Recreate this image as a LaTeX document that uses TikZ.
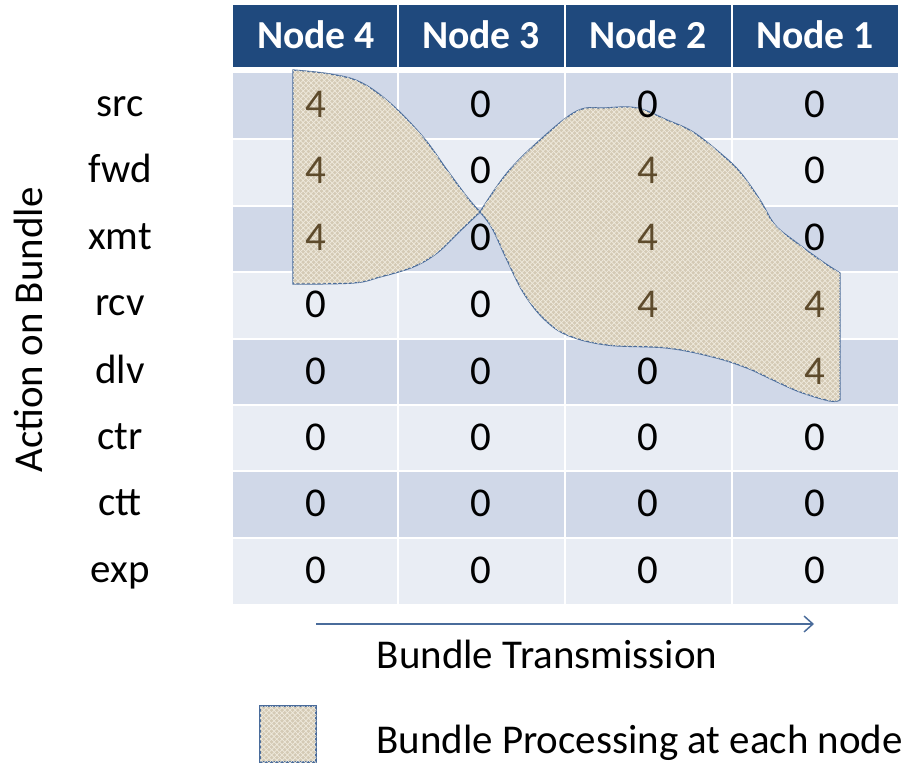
\documentclass[tikz,border=0pt]{standalone}
\usepackage{fontspec}
\setmainfont{Carlito}
\usetikzlibrary{arrows.meta,patterns}
\definecolor{hdblue}{HTML}{1F497D}
\definecolor{rowdark}{HTML}{D0D8E8}
\definecolor{rowlight}{HTML}{E9EDF4}
\definecolor{linen}{HTML}{D4CAB5}
\definecolor{weave}{HTML}{EFEADD}
\definecolor{edgeblue}{HTML}{4A6C9B}
\definecolor{numbrown}{HTML}{5E4B2C}
\tikzset{
	txt/.style={font=\fontsize{23.3}{28}\selectfont, inner sep=0pt, anchor=base},
	hd/.style={txt, font=\fontsize{22.6}{27}\selectfont\bfseries, text=white},
	four/.style={txt, text=numbrown},
	proc/.style={draw=edgeblue, line width=0.7pt, fill=linen, postaction={pattern=crosshatch, pattern color=weave}},
}
\begin{document}
\begin{tikzpicture}[x=0.02cm, y=-0.02cm]
		\useasboundingbox (0,0) rectangle (912,763);
		
		\fill[hdblue] (233,5) rectangle (898,67);
		\fill[rowdark] (233,73) rectangle (898,139);
		\fill[rowlight] (233,139) rectangle (898,206);
		\fill[rowdark] (233,206) rectangle (898,272);
		\fill[rowlight] (233,272) rectangle (898,339);
		\fill[rowdark] (233,339) rectangle (898,405);
		\fill[rowlight] (233,405) rectangle (898,471);
		\fill[rowdark] (233,471) rectangle (898,538);
		\fill[rowlight] (233,538) rectangle (898,604);
		
		\draw[white, line width=1.2pt] (233,139) -- (898,139);
		\draw[white, line width=1.2pt] (233,206) -- (898,206);
		\draw[white, line width=1.2pt] (233,272) -- (898,272);
		\draw[white, line width=1.2pt] (233,339) -- (898,339);
		\draw[white, line width=1.2pt] (233,405) -- (898,405);
		\draw[white, line width=1.2pt] (233,471) -- (898,471);
		\draw[white, line width=1.2pt] (233,538) -- (898,538);
		\draw[white, line width=1.2pt] (398,5) -- (398,604);
		\draw[white, line width=1.2pt] (565,5) -- (565,604);
		\draw[white, line width=1.2pt] (732,5) -- (732,604);
		
		\draw[proc] (293,284) -- (293,70)
			-- plot[smooth, tension=0.6] coordinates {(293,70) (330,74) (360,82) (390,103) (423,137) (447,170) (467,197) (480,212)}
			-- plot[smooth, tension=0.6] coordinates {(480,212) (460,231) (437,253) (413,267) (380,277) (353,283) (293,284)}
			-- cycle;
		\draw[proc] (480,212)
			-- plot[smooth, tension=0.6] coordinates {(480,212) (507,173) (540,140) (577,111) (605,108) (637,108) (667,120) (693,132) (720,153) (740,172) (760,200) (775,225) (797,243) (823,262) (840,273)}
			-- (840,400)
			-- plot[smooth, tension=0.6] coordinates {(840,400) (830,401) (800,392) (773,380) (747,368) (713,357) (667,348) (607,345) (567,335) (543,318) (523,292) (507,260) (492,228) (480,212)}
			-- cycle;
		
		\node[hd] (h4) at (316,49) {Node 4};
		\node[hd] (h3) at (481,49) {Node 3};
		\node[hd] (h2) at (648,49) {Node 2};
		\node[hd] (h1) at (815,49) {Node 1};
		
		\node[txt, rotate=90] (axis) at (42,330) {Action on Bundle};
		\node[txt] (src) at (120,117) {src};
		\node[txt] (fwd) at (120,183) {fwd};
		\node[txt] (xmt) at (120,250) {xmt};
		\node[txt] (rcv) at (120,316) {rcv};
		\node[txt] (dlv) at (120,383) {dlv};
		\node[txt] (ctr) at (120,449) {ctr};
		\node[txt] (ctt) at (120,515) {ctt};
		\node[txt] (exp) at (120,582) {exp};
		
		\node[four] (src4) at (316,118) {4};
		\node[txt] (src3) at (481,118) {0};
		\node[txt] (src2) at (648,118) {0};
		\node[txt] (src1) at (815,118) {0};
		\node[four] (fwd4) at (316,184) {4};
		\node[txt] (fwd3) at (481,184) {0};
		\node[four] (fwd2) at (648,184) {4};
		\node[txt] (fwd1) at (815,184) {0};
		\node[four] (xmt4) at (316,251) {4};
		\node[txt] (xmt3) at (481,251) {0};
		\node[four] (xmt2) at (648,251) {4};
		\node[txt] (xmt1) at (815,251) {0};
		\node[txt] (rcv4) at (316,317) {0};
		\node[txt] (rcv3) at (481,317) {0};
		\node[four] (rcv2) at (648,317) {4};
		\node[four] (rcv1) at (815,317) {4};
		\node[txt] (dlv4) at (316,384) {0};
		\node[txt] (dlv3) at (481,384) {0};
		\node[txt] (dlv2) at (648,384) {0};
		\node[four] (dlv1) at (815,384) {4};
		\node[txt] (ctr4) at (316,450) {0};
		\node[txt] (ctr3) at (481,450) {0};
		\node[txt] (ctr2) at (648,450) {0};
		\node[txt] (ctr1) at (815,450) {0};
		\node[txt] (ctt4) at (316,516) {0};
		\node[txt] (ctt3) at (481,516) {0};
		\node[txt] (ctt2) at (648,516) {0};
		\node[txt] (ctt1) at (815,516) {0};
		\node[txt] (exp4) at (316,583) {0};
		\node[txt] (exp3) at (481,583) {0};
		\node[txt] (exp2) at (648,583) {0};
		\node[txt] (exp1) at (815,583) {0};
		
		\coordinate (tx0) at (316,624);
		\coordinate (tx1) at (814,624);
		\draw[edgeblue, line width=0.85pt, -{Straight Barb[length=5pt,width=9pt]}] (tx0) -- (tx1);
		\node[txt] (txlabel) at (547,668) {Bundle Transmission};
		
		\draw[proc] (260,706) rectangle (316,762);
		\node[txt, anchor=base west] (legend) at (376,753) {Bundle Processing at each node};
	\end{tikzpicture}
\end{document}
